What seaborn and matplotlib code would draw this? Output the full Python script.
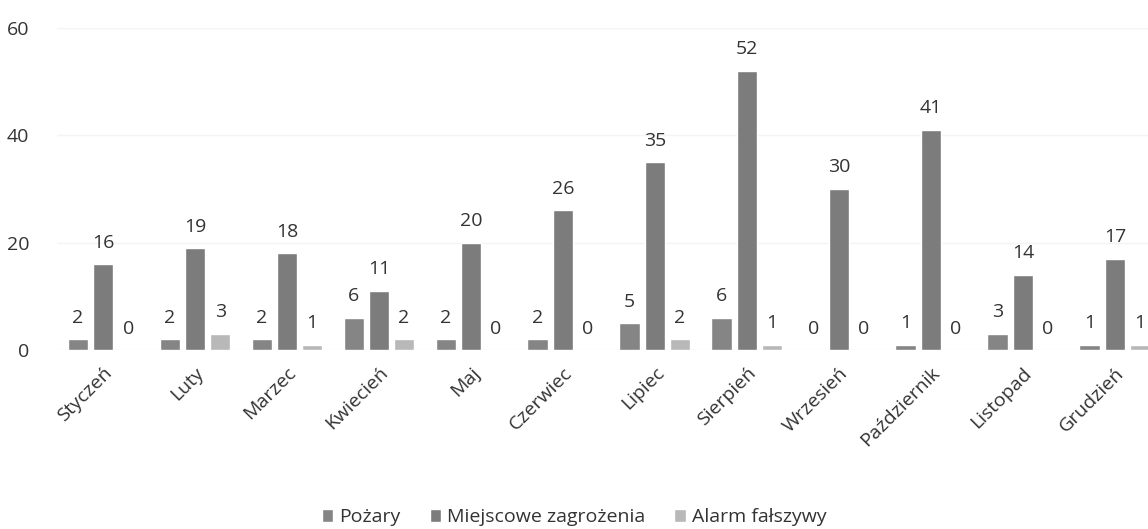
import matplotlib
matplotlib.use("Agg")
import matplotlib.pyplot as plt
import seaborn as sns
import pandas as pd

months = ["Styczeń", "Luty", "Marzec", "Kwiecień", "Maj", "Czerwiec",
          "Lipiec", "Sierpień", "Wrzesień", "Październik", "Listopad", "Grudzień"]
series = ["Pożary", "Miejscowe zagrożenia", "Alarm fałszywy"]
pozary = [2, 2, 2, 6, 2, 2, 5, 6, 0, 1, 3, 1]
miejscowe = [16, 19, 18, 11, 20, 26, 35, 52, 30, 41, 14, 17]
alarm = [0, 3, 1, 2, 0, 0, 2, 1, 0, 0, 0, 1]
colors = ["#858585", "#7c7c7c", "#b8b8b8"]

df = pd.DataFrame({
    "month": months * 3,
    "series": [series[0]] * 12 + [series[1]] * 12 + [series[2]] * 12,
    "value": pozary + miejscowe + alarm,
})

sns.set_theme(style="white")
plt.rcParams["font.family"] = ["Open Sans", "DejaVu Sans"]
FS = 14

fig = plt.figure(figsize=(11.48, 5.29), dpi=100)
ax = fig.add_axes([57 / 1148, 179 / 529, 1 - 57 / 1148, 322 / 529])

sns.barplot(data=df, x="month", y="value", hue="series", order=months,
            hue_order=series, palette=colors, width=0.82, gap=0.18,
            saturation=1, ax=ax)

for c in ax.containers:
    ax.bar_label(c, padding=9, fontsize=FS, color="#333333")

ax.set_ylim(0, 60)
ax.set_xlim(-0.5, 11.36)
ax.set_yticks([0, 20, 40, 60])
ax.tick_params(axis="y", labelsize=FS, colors="#333333", length=0, pad=20)
ax.tick_params(axis="x", labelsize=FS, colors="#333333", length=0, pad=10)
plt.setp(ax.get_xticklabels(), rotation=45, ha="right", rotation_mode="anchor")
ax.set_xlabel("")
ax.set_ylabel("")
ax.yaxis.grid(True, color="#f4f4f4", lw=1)
ax.set_axisbelow(True)
sns.despine(ax=ax, left=True, bottom=True)

ax.legend(loc="center", bbox_to_anchor=(0.474, -0.52), ncol=3,
          frameon=False, fontsize=FS, handlelength=0.6, handleheight=0.6,
          handletextpad=0.3, columnspacing=1.5, labelcolor="#333333")

plt.savefig("out.png", dpi=100)
plt.close()
